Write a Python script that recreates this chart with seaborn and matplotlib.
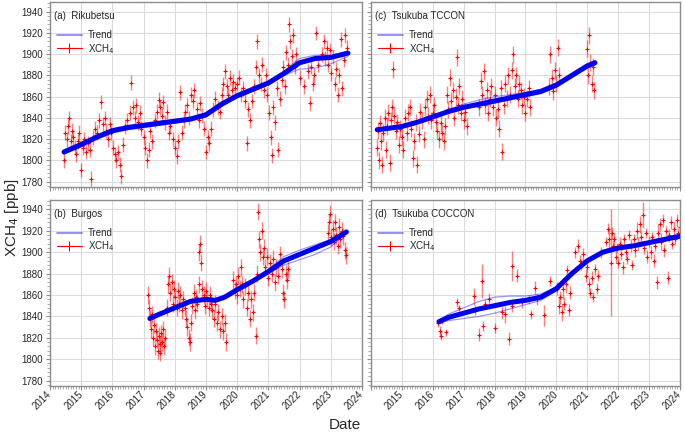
import numpy as np
import pandas as pd
import matplotlib
matplotlib.use("Agg")
import matplotlib.pyplot as plt
from matplotlib.lines import Line2D
from matplotlib.ticker import MultipleLocator
import seaborn as sns

# ---- data ----
# (a) Rikubetsu
rik_t = [2014.45, 2014.49, 2014.53, 2014.57, 2014.62, 2014.66, 2014.71, 2014.75, 2014.80, 2014.84, 2014.89, 2014.94,
         2015.00, 2015.05, 2015.10, 2015.15, 2015.22, 2015.28, 2015.32, 2015.38, 2015.45, 2015.52, 2015.58, 2015.65, 2015.70, 2015.75, 2015.80, 2015.85, 2015.92, 2015.97,
         2016.03, 2016.08, 2016.13, 2016.18, 2016.23, 2016.27, 2016.33, 2016.40, 2016.47, 2016.55, 2016.61, 2016.67, 2016.72, 2016.77, 2016.82, 2016.88, 2016.93,
         2017.00, 2017.05, 2017.10, 2017.16, 2017.22, 2017.28, 2017.35, 2017.42, 2017.48, 2017.53, 2017.58, 2017.63, 2017.69, 2017.75, 2017.80, 2017.86, 2017.93,
         2018.00, 2018.06, 2018.11, 2018.17, 2018.22, 2018.28, 2018.34, 2018.40, 2018.46, 2018.52, 2018.57, 2018.63, 2018.70, 2018.76, 2018.82, 2018.88, 2018.94,
         2019.00, 2019.05, 2019.11, 2019.17, 2019.23, 2019.30, 2019.37, 2019.44, 2019.50, 2019.56, 2019.61, 2019.66, 2019.71, 2019.76, 2019.82, 2019.88, 2019.94,
         2020.00, 2020.06, 2020.12, 2020.18, 2020.24, 2020.31, 2020.36, 2020.42, 2020.48, 2020.54, 2020.59, 2020.64, 2020.70, 2020.75, 2020.80, 2020.86, 2020.92,
         2020.97, 2021.02, 2021.07, 2021.11, 2021.16, 2021.21, 2021.26, 2021.31, 2021.36, 2021.42, 2021.47, 2021.52, 2021.57, 2021.62, 2021.67, 2021.70, 2021.75, 2021.80, 2021.85, 2021.90,
         2022.02, 2022.15, 2022.28, 2022.34, 2022.38, 2022.42, 2022.46, 2022.51, 2022.58,
         2022.72, 2022.77, 2022.82, 2022.87, 2022.92, 2022.97, 2023.02, 2023.07, 2023.12, 2023.17, 2023.22, 2023.27, 2023.32, 2023.37, 2023.42, 2023.47, 2023.52]
rik_v = [1800, 1826, 1820, 1832, 1840, 1818, 1828, 1822, 1812, 1806, 1818, 1826,
         1791, 1812, 1820, 1808, 1816, 1810, 1783, 1822, 1830, 1826, 1838, 1855, 1834, 1840, 1828, 1820, 1834, 1826,
         1812, 1806, 1800, 1808, 1796, 1785, 1815, 1832, 1838, 1845, 1873, 1850, 1840, 1852, 1836, 1845, 1830,
         1822, 1812, 1800, 1810, 1828, 1818, 1838, 1846, 1857, 1850, 1842, 1855, 1836, 1846, 1826, 1832, 1820,
         1812, 1804, 1818, 1864, 1826, 1838, 1846, 1852, 1840, 1862, 1856, 1866, 1848, 1838, 1854, 1842, 1830,
         1808, 1822, 1816, 1830, 1848, 1858, 1850, 1846, 1862, 1872, 1884, 1870, 1862, 1878, 1866, 1874, 1868,
         1872, 1878, 1862, 1868, 1856, 1816, 1848, 1838, 1856, 1870, 1888, 1912, 1880, 1872, 1890, 1866, 1880,
         1862, 1845, 1822, 1805, 1850, 1836, 1868, 1810, 1858, 1876, 1888, 1870, 1902, 1890, 1928, 1912, 1898, 1918, 1888, 1900,
         1878, 1870, 1884, 1854, 1888, 1872, 1880, 1920, 1890,
         1900, 1912, 1896, 1906, 1890, 1904, 1882, 1898, 1872, 1886, 1862, 1880, 1914, 1868, 1895, 1918, 1906]
rik_err = 7

rik_trend_t = [2014.45, 2015.0, 2015.5, 2016.0, 2016.5, 2017.0, 2017.5, 2018.0, 2018.5, 2019.0,
               2019.5, 2020.0, 2020.5, 2021.0, 2021.5, 2022.0, 2022.5, 2023.0, 2023.55]
rik_trend = [1808, 1815, 1822, 1828, 1831, 1833, 1835, 1837, 1839, 1843, 1853, 1861, 1867, 1873, 1882, 1892, 1896, 1897, 1901]
rik_trend_hi = [1810, 1817, 1824, 1830, 1833, 1835, 1837, 1838, 1840, 1845, 1855, 1862, 1868, 1874, 1884, 1896, 1899, 1899, 1903]
rik_trend_lo = [1806, 1813, 1820, 1826, 1829, 1831, 1833, 1835, 1837, 1841, 1851, 1859, 1865, 1871, 1880, 1886, 1887, 1891, 1898]

# (b) Burgos
bur_t = [2017.15, 2017.18, 2017.21, 2017.24, 2017.27, 2017.30, 2017.33, 2017.36, 2017.39, 2017.42, 2017.45, 2017.48,
         2017.51, 2017.54, 2017.57, 2017.60, 2017.63, 2017.66, 2017.70, 2017.74, 2017.78, 2017.82, 2017.86, 2017.90,
         2017.94, 2017.98, 2018.02, 2018.06, 2018.10, 2018.14, 2018.18, 2018.22, 2018.27, 2018.32, 2018.36, 2018.40,
         2018.44, 2018.48, 2018.52, 2018.56, 2018.60, 2018.64, 2018.68, 2018.72, 2018.76, 2018.79, 2018.82, 2018.85,
         2018.88, 2018.92, 2018.96, 2019.00, 2019.04, 2019.08, 2019.12, 2019.16, 2019.20, 2019.25, 2019.30, 2019.35,
         2019.40, 2019.45, 2019.50, 2019.55, 2019.60, 2019.64,
         2019.88, 2019.92, 2019.96, 2020.00, 2020.04, 2020.08, 2020.12, 2020.16, 2020.20, 2020.25, 2020.30, 2020.35,
         2020.40, 2020.45, 2020.50, 2020.55, 2020.60, 2020.64, 2020.67, 2020.70, 2020.74, 2020.78, 2020.82, 2020.86,
         2020.90, 2020.95, 2021.00, 2021.05, 2021.10, 2021.15, 2021.20, 2021.25, 2021.30, 2021.36, 2021.42, 2021.46,
         2021.50, 2021.55, 2021.60, 2021.64,
         2022.90, 2022.94, 2022.98, 2023.02, 2023.06, 2023.10, 2023.14, 2023.18, 2023.22, 2023.26, 2023.30, 2023.35,
         2023.40, 2023.46, 2023.49]
bur_v = [1860, 1848, 1838, 1828, 1842, 1820, 1832, 1812, 1826, 1818, 1808, 1822,
         1814, 1806, 1824, 1816, 1828, 1812, 1820, 1848, 1870, 1878, 1862, 1872,
         1852, 1866, 1858, 1848, 1864, 1852, 1860, 1846, 1856, 1848, 1838, 1830,
         1820, 1816, 1834, 1850, 1862, 1846, 1858, 1852, 1870, 1900, 1908, 1890,
         1866, 1860, 1850, 1864, 1856, 1848, 1860, 1852, 1846, 1838, 1852, 1834,
         1844, 1828, 1840, 1826, 1834, 1816,
         1874, 1864, 1870, 1860, 1878, 1866, 1886, 1870, 1856, 1868, 1848, 1862,
         1838, 1856, 1844, 1862, 1822, 1880, 1938, 1912, 1900, 1920, 1896, 1904,
         1886, 1896, 1876, 1890, 1880, 1894, 1872, 1886, 1878, 1898, 1884, 1862,
         1856, 1880, 1874, 1884,
         1918, 1928, 1936, 1914, 1922, 1910, 1928, 1916, 1906, 1924, 1912, 1920,
         1915, 1902, 1897]
bur_err = 8

bur_trend_t = [2017.2, 2017.5, 2018.0, 2018.5, 2019.0, 2019.3, 2019.6, 2020.0, 2020.5, 2021.0,
               2021.5, 2022.0, 2022.5, 2023.0, 2023.5]
bur_trend = [1838, 1842, 1848, 1854, 1856, 1855, 1858, 1865, 1873, 1882, 1892, 1898, 1904, 1910, 1919]
bur_trend_hi = [1839, 1843, 1849, 1855, 1857, 1856, 1859, 1866, 1874, 1884, 1896, 1902, 1907, 1912, 1920]
bur_trend_lo = [1837, 1841, 1847, 1853, 1855, 1854, 1857, 1864, 1872, 1880, 1888, 1893, 1898, 1905, 1918]

# (c) Tsukuba TCCON
tcc_t = [2014.20, 2014.23, 2014.26, 2014.30, 2014.33, 2014.37, 2014.40, 2014.44, 2014.48, 2014.52, 2014.56, 2014.60,
         2014.64, 2014.68, 2014.72, 2014.76, 2014.80, 2014.85, 2014.90, 2014.95, 2015.00, 2015.05, 2015.10, 2015.15,
         2015.20, 2015.25, 2015.30, 2015.35, 2015.40, 2015.45, 2015.50, 2015.55, 2015.60, 2015.65, 2015.70, 2015.75,
         2015.80, 2015.85, 2015.90, 2015.95, 2016.00, 2016.05, 2016.10, 2016.15, 2016.20, 2016.25, 2016.30, 2016.35,
         2016.40, 2016.45, 2016.50, 2016.55, 2016.60, 2016.65, 2016.70, 2016.75, 2016.78, 2016.82, 2016.86, 2016.90,
         2016.95, 2017.00, 2017.05, 2017.10,
         2017.50, 2017.55, 2017.60, 2017.65, 2017.70, 2017.75, 2017.80, 2017.85, 2017.90, 2017.95, 2018.00, 2018.05,
         2018.10, 2018.15, 2018.20, 2018.25, 2018.30, 2018.35, 2018.40, 2018.45, 2018.50, 2018.55, 2018.60, 2018.65,
         2018.70, 2018.75, 2018.80, 2018.85, 2018.90, 2018.95, 2019.00, 2019.05, 2019.10, 2019.15,
         2019.75, 2019.80, 2019.85, 2019.90, 2019.95, 2020.00, 2020.05, 2020.10,
         2020.98, 2021.02, 2021.06, 2021.10, 2021.14, 2021.18, 2021.22]
tcc_v = [1812, 1828, 1800, 1835, 1818, 1796, 1826, 1840, 1810, 1832, 1845, 1798,
         1838, 1850, 1886, 1842, 1828, 1836, 1815, 1830, 1822, 1810, 1840, 1826,
         1845, 1850, 1830, 1802, 1818, 1836, 1796, 1825, 1846, 1838, 1820, 1850,
         1858, 1842, 1862, 1838, 1845, 1852, 1836, 1828, 1820, 1835, 1826, 1818,
         1832, 1862, 1848, 1878, 1856, 1866, 1840, 1860, 1897, 1852, 1870, 1845,
         1858, 1838, 1846, 1832,
         1850, 1875, 1862, 1884, 1852, 1866, 1845, 1858, 1870, 1850, 1862, 1840,
         1848, 1830, 1868, 1808, 1852, 1872, 1858, 1880, 1862, 1885, 1900, 1870,
         1880, 1858, 1872, 1866, 1852, 1860, 1845, 1858, 1868, 1850,
         1870, 1900, 1878, 1865, 1885, 1872, 1906, 1880,
         1905, 1880, 1918, 1892, 1872, 1888, 1866]
tcc_err = 8

tcc_trend_t = [2014.2, 2014.5, 2015.0, 2015.5, 2016.0, 2016.5, 2017.0, 2017.5, 2018.0, 2018.5,
               2019.0, 2019.5, 2020.0, 2020.5, 2021.0, 2021.25]
tcc_trend = [1829, 1830, 1832, 1836, 1841, 1846, 1850, 1853, 1856, 1859, 1862, 1865, 1871, 1880, 1889, 1892]
tcc_trend_hi = [1830, 1831, 1833, 1837, 1842, 1848, 1853, 1857, 1860, 1862, 1864, 1867, 1873, 1882, 1891, 1894]
tcc_trend_lo = [1828, 1829, 1831, 1835, 1840, 1845, 1849, 1851, 1854, 1857, 1860, 1863, 1869, 1878, 1887, 1890]

# (d) Tsukuba COCCON
coc_t = [2016.18, 2016.22, 2016.25, 2016.30, 2016.42, 2016.80, 2016.84, 2017.34, 2017.38, 2017.50, 2017.60, 2017.62,
         2017.70, 2017.82, 2018.03, 2018.25, 2018.33, 2018.48, 2018.57, 2018.58, 2018.73, 2018.89, 2019.10, 2019.19,
         2019.32, 2019.37, 2019.59, 2019.80, 2020.02, 2020.08, 2020.12, 2020.17, 2020.22, 2020.26, 2020.30, 2020.34,
         2020.40, 2020.44, 2020.60, 2020.70, 2020.75, 2020.80, 2020.87, 2020.95, 2021.00, 2021.05, 2021.10, 2021.15,
         2021.20, 2021.25, 2021.30, 2021.35, 2021.46, 2021.60, 2021.68, 2021.72, 2021.76, 2021.80, 2021.84, 2021.88,
         2021.92, 2021.96, 2022.00, 2022.05, 2022.10, 2022.15, 2022.20, 2022.25, 2022.30, 2022.35, 2022.40, 2022.45,
         2022.50, 2022.55, 2022.60, 2022.65, 2022.70, 2022.75, 2022.80, 2022.85, 2022.90, 2022.95, 2023.00, 2023.05,
         2023.10, 2023.15, 2023.20, 2023.25, 2023.30, 2023.35, 2023.40, 2023.45, 2023.50, 2023.55, 2023.60, 2023.65,
         2023.70, 2023.75, 2023.80, 2023.85, 2023.90, 2023.95, 2023.99]
coc_v = [1834, 1826, 1822, 1836, 1825, 1853, 1848, 1859, 1846, 1823, 1873, 1831,
         1852, 1856, 1829, 1844, 1842, 1819, 1887, 1850, 1878, 1853, 1856, 1842,
         1867, 1856, 1841, 1873, 1866, 1850, 1858, 1844, 1866, 1852, 1870, 1883,
         1846, 1862, 1900, 1906, 1892, 1888, 1898, 1878, 1886, 1870, 1862, 1876,
         1858, 1884, 1866, 1878, 1900, 1910, 1922, 1912, 1890, 1918, 1906, 1912,
         1896, 1904, 1890, 1908, 1898, 1886, 1912, 1900, 1894, 1916, 1906, 1888,
         1912, 1902, 1920, 1908, 1926, 1914, 1935, 1904, 1918, 1896, 1910, 1900,
         1914, 1892, 1906, 1872, 1918, 1926, 1910, 1930, 1902, 1920, 1876, 1916,
         1928, 1908, 1922, 1912, 1930, 1918, 1924]
coc_err = [4, 5, 4, 3, 3, 4, 3, 8, 5, 6, 16, 5,
           4, 6, 5, 6, 8, 6, 14, 6, 6, 5, 4, 4,
           6, 5, 10, 5, 6, 8, 6, 8, 10, 6, 8, 5,
           6, 6, 5, 6, 5, 5, 6, 6, 5, 6, 5, 6,
           5, 5, 5, 5, 5, 4, 5, 10, 50, 6, 5, 6,
           6, 5, 5, 6, 5, 6, 5, 5, 5, 5, 6, 5,
           5, 6, 8, 6, 8, 6, 12, 6, 5, 6, 5, 6,
           5, 6, 5, 6, 8, 6, 8, 6, 6, 5, 6, 6,
           6, 5, 6, 5, 6, 5, 6]

coc_trend_t = [2016.2, 2016.5, 2017.0, 2017.5, 2018.0, 2018.5, 2019.0, 2019.5, 2020.0, 2020.5,
               2021.0, 2021.5, 2022.0, 2022.5, 2023.0, 2023.5, 2024.0]
coc_trend = [1835, 1839, 1843, 1847, 1850, 1853, 1855, 1858, 1866, 1880, 1892, 1900, 1904, 1906, 1909, 1912, 1915]
coc_trend_hi = [1836, 1842, 1848, 1854, 1858, 1859, 1859, 1861, 1867, 1881, 1893, 1901, 1905, 1907, 1910, 1913, 1916]
coc_trend_lo = [1834, 1836, 1838, 1840, 1843, 1847, 1851, 1855, 1864, 1879, 1891, 1899, 1903, 1905, 1908, 1911, 1914]

years = list(range(2014, 2025))
yticks = [1780, 1800, 1820, 1840, 1860, 1880, 1900, 1920, 1940]

panels = [
    ("(a)  Rikubetsu", rik_t, rik_v, rik_err, rik_trend_t, rik_trend, rik_trend_hi, rik_trend_lo),
    ("(c)  Tsukuba TCCON", tcc_t, tcc_v, tcc_err, tcc_trend_t, tcc_trend, tcc_trend_hi, tcc_trend_lo),
    ("(b)  Burgos", bur_t, bur_v, bur_err, bur_trend_t, bur_trend, bur_trend_hi, bur_trend_lo),
    ("(d)  Tsukuba COCCON", coc_t, coc_v, coc_err, coc_trend_t, coc_trend, coc_trend_hi, coc_trend_lo),
]

# ---- style ----
sns.set_style("ticks", {"axes.grid": True, "grid.color": "#dcdcdc", "axes.edgecolor": "#8c8c8c"})
plt.rcParams["font.family"] = ["Liberation Sans", "DejaVu Sans"]

fig = plt.figure(figsize=(6.85, 4.36), dpi=100)
boxes = [
    [0.073, 0.571, 0.4555, 0.424],
    [0.5416, 0.571, 0.451, 0.424],
    [0.073, 0.115, 0.4555, 0.4266],
    [0.5416, 0.115, 0.451, 0.4266],
]

for i, (label, t, v, err, tt, tr, thi, tlo) in enumerate(panels):
    ax = fig.add_axes(boxes[i])
    ax.errorbar(t, v, yerr=err, fmt="+", color="red", ms=3.5, mew=0.8,
                ecolor=(1, 0, 0, 0.5), elinewidth=1.0, capsize=0, zorder=2)

    trend_df = pd.concat([
        pd.DataFrame({"year": tt, "xch4": m, "member": k})
        for k, m in enumerate([thi, tr, tlo])
    ])
    sns.lineplot(data=trend_df, x="year", y="xch4", units="member", estimator=None,
                 color="blue", lw=0.9, alpha=0.4, ax=ax, legend=False, zorder=3)
    sns.lineplot(x=tt, y=tr, color="#0000f0", lw=3.6, ax=ax, zorder=4)

    ax.set_xlim(2014, 2024)
    ax.set_ylim(1775, 1949)
    ax.set_xticks(years)
    ax.set_yticks(yticks)
    ax.xaxis.set_minor_locator(MultipleLocator(1 / 12))
    ax.yaxis.set_minor_locator(MultipleLocator(4))
    ax.tick_params(which="both", direction="out", color="#8c8c8c", labelsize=7, pad=2)
    ax.tick_params(which="major", length=3, width=0.8)
    ax.tick_params(which="minor", length=2, width=0.5)
    ax.grid(True, which="major", color="#dcdcdc", lw=0.8)
    ax.set_xlabel("")
    ax.set_ylabel("")
    for s in ax.spines.values():
        s.set_color("#8c8c8c")
        s.set_linewidth(1.0)

    if i < 2:
        ax.set_xticklabels([])
    else:
        labs = [str(y) for y in years]
        if i == 3:
            labs[0] = ""
        ax.set_xticklabels(labs, rotation=45, ha="right", va="center", rotation_mode="anchor")
    if i % 2 == 1:
        ax.set_yticklabels([])

    ax.text(0.012, 0.95, label, transform=ax.transAxes, fontsize=7, va="top", ha="left")
    handles = [
        Line2D([], [], color="blue", alpha=0.5, lw=1.2),
        Line2D([], [], color="red", lw=0.8, marker="+", ms=7, mew=0.8),
    ]
    ax.legend(handles, ["Trend", "XCH$_4$"], loc="upper left", bbox_to_anchor=(0.0, 0.885),
              frameon=False, fontsize=7, handlelength=2.6, labelspacing=0.15,
              borderaxespad=0.3, handletextpad=0.6)

fig.text(0.018, 0.5, "XCH$_4$ [ppb]", rotation=90, va="center", ha="center", fontsize=11)
fig.text(0.504, 0.026, "Date", va="center", ha="center", fontsize=11)

fig.savefig("out.png", dpi=100)
